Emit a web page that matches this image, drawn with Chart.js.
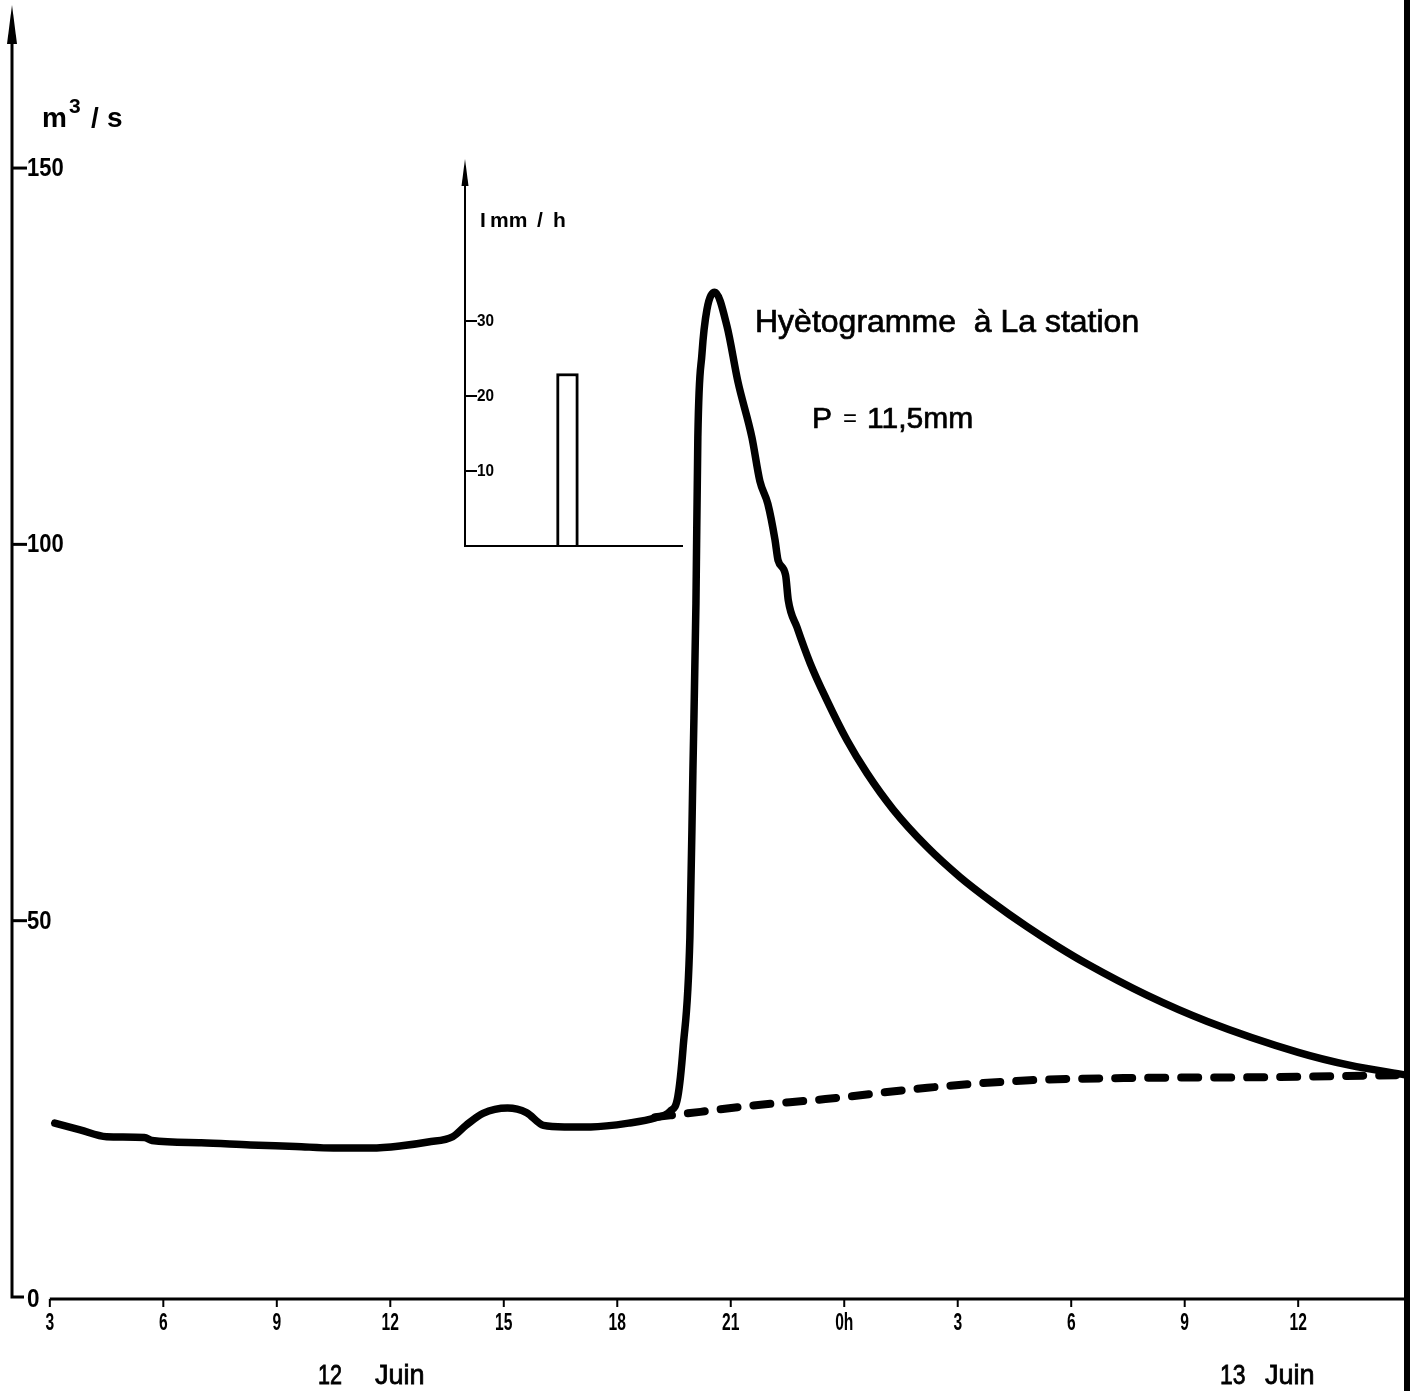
<!DOCTYPE html>
<html>
<head>
<meta charset="utf-8">
<script src="https://cdn.jsdelivr.net/npm/chart.js@4/dist/chart.umd.min.js"></script>
<style>
  html, body { margin: 0; padding: 0; background: #fff; }
  #wrap { position: relative; width: 1415px; height: 1391px; overflow: hidden; }
  #wrap canvas { position: absolute; }
</style>
</head>
<body>
<div id="wrap">
  <canvas id="hydro" width="1415" height="1391" style="left:0;top:0"></canvas>
  <canvas id="hyeto" width="260" height="420" style="left:440px;top:150px"></canvas>
</div>
<script>
// time in hours counted from 12 June 0h
const flowHours = [3.13, 3.8, 4.5, 5.5, 5.7, 7.0, 8.3, 9.5, 10.5, 11.5, 12.3, 13.0, 13.65, 14.0, 14.45,
  15.1, 15.6, 16.05, 16.6, 17.3, 18.3, 19.0, 19.4, 19.6, 19.74, 19.92, 20.0, 20.08, 20.13, 20.24,
  20.37, 20.58, 20.9, 21.19, 21.56, 21.77, 21.98, 22.17, 22.25, 22.45, 22.52, 22.75, 23.1, 23.54,
  24.07, 24.6, 25.29, 26.19, 27.06, 27.93, 28.83, 29.63, 30.4, 32.0, 33.6, 36.0, 37.35, 38.85];
const flowValues = [23.1, 22.2, 21.3, 21.2, 20.8, 20.5, 20.2, 20.0, 19.8, 19.8, 20.1, 20.6, 21.3, 22.8, 24.4,
  25.1, 24.5, 22.8, 22.6, 22.6, 23.1, 23.8, 24.7, 26.6, 33.1, 47.8, 70.0, 92.2, 114.2, 125.4,
  131.2, 133.5, 129.0, 121.6, 114.2, 108.4, 105.4, 100.6, 97.9, 95.9, 92.6, 89.0, 84.2, 79.3,
  74.0, 69.6, 64.8, 59.8, 55.8, 52.4, 49.2, 46.6, 44.3, 40.1, 36.6, 32.5, 30.8, 29.5];

// separated base flow (dashed)
const baseHours = [19.0, 20.2, 21.5, 23.5, 26.2, 28.9, 31.6, 35.0, 38.85];
const baseValues = [23.9, 24.6, 25.4, 26.3, 27.8, 28.8, 29.1, 29.2, 29.5];

const xTickHours = [3, 6, 9, 12, 15, 18, 21, 24, 27, 30, 33, 36];
const xTickLabels = ['3', '6', '9', '12', '15', '18', '21', '0h', '3', '6', '9', '12'];
const yTicks = [50, 100, 150];

// inset hyetogram (hours on the inset's own axis)
const rainHours = [2.35];
const rainIntensity = [23];
const rainTicks = [10, 20, 30];

const SANS = '"Liberation Sans", Arial, sans-serif';

function toPoints(xs, ys) {
  return xs.map((v, i) => ({ x: v, y: ys[i] }));
}

// narrow lettering like the stencil on the original sheet
function squished(ctx, text, x, y, sx, heavy) {
  ctx.save();
  ctx.translate(x, y);
  ctx.scale(sx, 1);
  ctx.fillText(text, 0, 0);
  if (heavy) ctx.strokeText(text, 0, 0);
  ctx.restore();
}

const paperAxes = {
  id: 'paperAxes',
  afterDraw(chart) {
    const { ctx, scales: { x, y } } = chart;
    const x0 = x.getPixelForValue(x.min);
    const y0 = y.getPixelForValue(0);
    ctx.save();
    ctx.strokeStyle = '#000';
    ctx.fillStyle = '#000';
    ctx.lineWidth = 3;

    // y axis with the little foot at 0
    ctx.beginPath();
    ctx.moveTo(x0, y.top + 20);
    ctx.lineTo(x0, y0);
    ctx.lineTo(x0 + 12, y0);
    ctx.stroke();
    ctx.beginPath();
    ctx.moveTo(x0, y.top - 5);
    ctx.lineTo(x0 - 5, y.top + 34);
    ctx.lineTo(x0 + 5, y.top + 34);
    ctx.closePath();
    ctx.fill();

    ctx.font = 'bold 25px ' + SANS;
    ctx.textBaseline = 'middle';
    ctx.textAlign = 'left';
    squished(ctx, '0', x0 + 15, y0 + 3, 0.9);
    yTicks.forEach(v => {
      const py = y.getPixelForValue(v);
      ctx.beginPath();
      ctx.moveTo(x0, py);
      ctx.lineTo(x0 + 15, py);
      ctx.stroke();
      squished(ctx, String(v), x0 + 15, py + 1, 0.88);
    });

    // x axis starting at the first tick
    const xa = x.getPixelForValue(xTickHours[0]);
    ctx.beginPath();
    ctx.moveTo(xa, y0 + 2);
    ctx.lineTo(x.right, y0 + 2);
    ctx.stroke();
    ctx.lineWidth = 2;
    ctx.font = 'bold 24px ' + SANS;
    ctx.textAlign = 'center';
    xTickHours.forEach((h, i) => {
      const px = x.getPixelForValue(h);
      ctx.beginPath();
      ctx.moveTo(px, y0 + 2);
      ctx.lineTo(px, y0 + 10);
      ctx.stroke();
      squished(ctx, xTickLabels[i], px, y0 + 26, 0.65);
    });

    // dates
    ctx.textAlign = 'left';
    ctx.font = '27px ' + SANS;
    ctx.lineWidth = 0.8;
    squished(ctx, '12', 318, y0 + 80, 0.8, true);
    ctx.fillText('Juin', 375, y0 + 80);
    ctx.strokeText('Juin', 375, y0 + 80);
    squished(ctx, '13', 1220, y0 + 80, 0.85, true);
    ctx.fillText('Juin', 1265, y0 + 80);
    ctx.strokeText('Juin', 1265, y0 + 80);

    // unit label
    ctx.textBaseline = 'alphabetic';
    ctx.font = 'bold 28px ' + SANS;
    ctx.fillText('m', 42, 127);
    ctx.font = 'bold 21px ' + SANS;
    ctx.fillText('3', 69, 113);
    ctx.font = 'bold 28px ' + SANS;
    ctx.fillText('/', 91, 127);
    ctx.fillText('s', 107, 127);

    // notes
    ctx.lineWidth = 0.7;
    ctx.font = '32px ' + SANS;
    ctx.fillText('Hyètogramme  à La station', 755, 332);
    ctx.strokeText('Hyètogramme  à La station', 755, 332);
    ctx.font = '30px ' + SANS;
    ctx.fillText('P', 812, 428);
    ctx.strokeText('P', 812, 428);
    ctx.font = '24px ' + SANS;
    ctx.fillText('=', 843, 426);
    ctx.font = '30px ' + SANS;
    ctx.fillText('11,5mm', 867, 428);
    ctx.strokeText('11,5mm', 867, 428);

    // right frame edge
    ctx.lineWidth = 6;
    ctx.beginPath();
    ctx.moveTo(x.right + 1, 0);
    ctx.lineTo(x.right + 1, chart.height);
    ctx.stroke();
    ctx.restore();
  }
};

new Chart(document.getElementById('hydro'), {
  type: 'line',
  data: {
    datasets: [
      {
        label: 'Débit',
        data: toPoints(flowHours, flowValues),
        borderColor: '#000',
        borderWidth: 7.5,
        borderCapStyle: 'round',
        borderJoinStyle: 'round',
        cubicInterpolationMode: 'monotone',
        pointRadius: 0,
        fill: false
      },
      {
        label: 'Écoulement de base',
        data: toPoints(baseHours, baseValues),
        borderColor: '#000',
        borderWidth: 8,
        borderDash: [17, 16],
        borderCapStyle: 'round',
        cubicInterpolationMode: 'monotone',
        pointRadius: 0,
        fill: false
      }
    ]
  },
  options: {
    responsive: false,
    animation: false,
    layout: { padding: { left: 12, right: 9, top: 10, bottom: 94 } },
    plugins: { legend: { display: false }, tooltip: { enabled: false } },
    scales: {
      x: { type: 'linear', min: 2, max: 38.85, display: false },
      y: { type: 'linear', min: 0, max: 171, display: false }
    }
  },
  plugins: [paperAxes]
});

const insetAxes = {
  id: 'insetAxes',
  afterDraw(chart) {
    const { ctx, scales: { x, y } } = chart;
    const x0 = x.left, y0 = y.getPixelForValue(0);
    ctx.save();
    ctx.strokeStyle = '#000';
    ctx.fillStyle = '#000';
    ctx.lineWidth = 2;
    ctx.beginPath();
    ctx.moveTo(x0, y.top + 14);
    ctx.lineTo(x0, y0);
    ctx.lineTo(x.right, y0);
    ctx.stroke();
    ctx.beginPath();
    ctx.moveTo(x0, y.top - 3);
    ctx.lineTo(x0 - 3.5, y.top + 24);
    ctx.lineTo(x0 + 3.5, y.top + 24);
    ctx.closePath();
    ctx.fill();

    ctx.font = 'bold 17px ' + SANS;
    ctx.textBaseline = 'middle';
    ctx.textAlign = 'left';
    rainTicks.forEach(v => {
      const py = y.getPixelForValue(v);
      ctx.beginPath();
      ctx.moveTo(x0, py);
      ctx.lineTo(x0 + 12, py);
      ctx.stroke();
      squished(ctx, String(v), x0 + 12, py, 0.9);
    });
    ctx.font = 'bold 21px ' + SANS;
    ctx.textBaseline = 'alphabetic';
    ctx.fillText('I', x0 + 15, y.top + 65);
    ctx.fillText('mm', x0 + 25, y.top + 65);
    ctx.fillText('/', x0 + 72, y.top + 65);
    ctx.fillText('h', x0 + 88, y.top + 65);
    ctx.restore();
  }
};

new Chart(document.getElementById('hyeto'), {
  type: 'bar',
  data: {
    datasets: [{
      label: 'I mm/h',
      data: toPoints(rainHours, rainIntensity),
      backgroundColor: '#fff',
      borderColor: '#000',
      borderWidth: 3,
      borderSkipped: 'start',
      barPercentage: 1,
      categoryPercentage: 1
    }]
  },
  options: {
    responsive: false,
    animation: false,
    layout: { padding: { left: 25, right: 17, top: 12, bottom: 24 } },
    plugins: { legend: { display: false }, tooltip: { enabled: false } },
    scales: {
      x: { type: 'linear', min: 0, max: 5, offset: false, display: false, ticks: { stepSize: 0.5 } },
      y: { type: 'linear', min: 0, max: 51.2, display: false }
    }
  },
  plugins: [insetAxes]
});
</script>
</body>
</html>
